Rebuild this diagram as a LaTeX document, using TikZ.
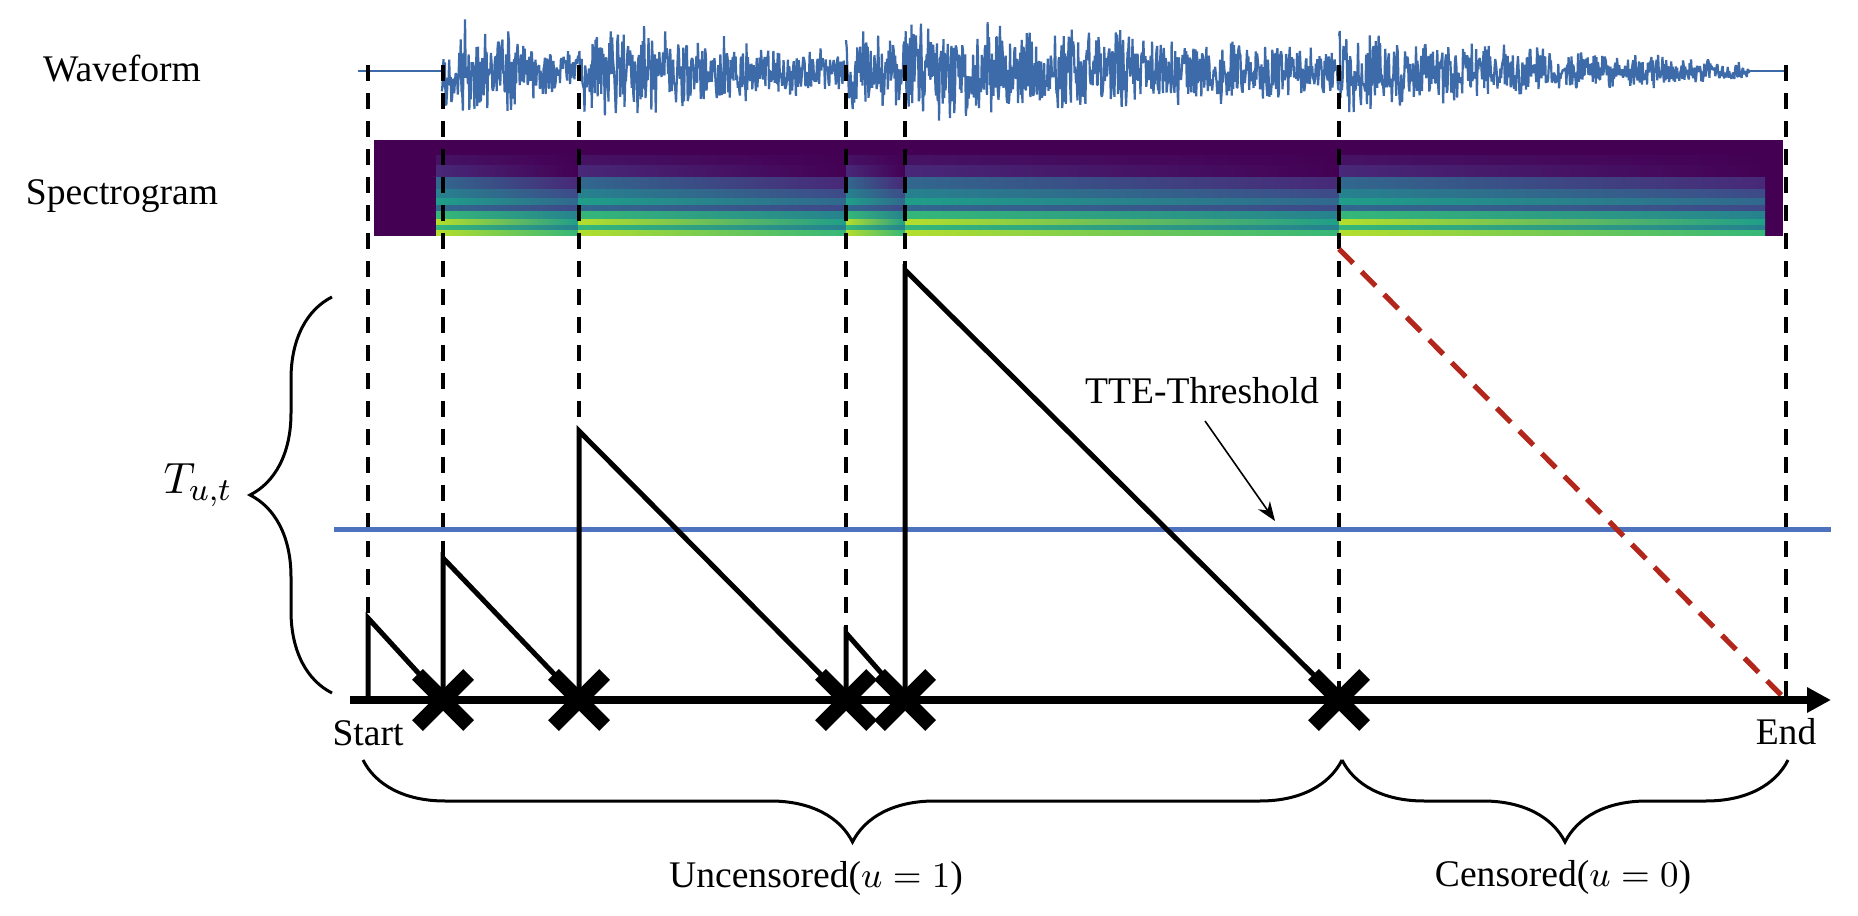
\documentclass[tikz,border=0pt]{standalone}
\usepackage{fontspec}
\setmainfont{Liberation Serif}
\usepackage{amsmath}
\usetikzlibrary{arrows.meta,positioning,decorations.pathreplacing,shapes.misc}
\definecolor{myWAVE}{HTML}{3D6AA8}
\definecolor{myBLUE}{HTML}{4F72BE}
\definecolor{myRED}{HTML}{B2261B}
\definecolor{vir0}{HTML}{440154}
\definecolor{vir1}{HTML}{482878}
\definecolor{vir2}{HTML}{3E4A89}
\definecolor{vir3}{HTML}{31688E}
\definecolor{vir4}{HTML}{26828E}
\definecolor{vir5}{HTML}{1F9E89}
\definecolor{vir6}{HTML}{35B779}
\definecolor{vir7}{HTML}{6DCD59}
\definecolor{vir8}{HTML}{B4DE2C}
\definecolor{vir9}{HTML}{FDE725}

\begin{document}
\begin{tikzpicture}[x=0.25pt, y=-0.25pt, >=Stealth, font=\fontsize{9.4}{11}\selectfont,
    wave/.style={myWAVE, line width=0.55pt, line join=bevel},
    guide/.style={black, line width=1pt, dash pattern=on 4pt off 3pt},
    saw/.style={black, line width=1.25pt},
    event/.style={cross out, draw=black, line width=3.8pt, minimum size=9pt, inner sep=0pt},
    curly/.style={decorate, decoration={brace, amplitude=20.5pt}, line width=0.75pt}]
    \useasboundingbox (0,0) rectangle (1858,916);

    % Coordinates
    \coordinate (wavetop) at (0,65);
    \coordinate (s0) at (368,700);
    \coordinate (ev1) at (443,700);
    \coordinate (ev2) at (579,700);
    \coordinate (ev3) at (846,700);
    \coordinate (ev4) at (905,700);
    \coordinate (ev5) at (1339,700);
    \coordinate (endpt) at (1786,700);
    \coordinate (t0) at (368,618);
    \coordinate (t1) at (443,558);
    \coordinate (t2) at (579,431);
    \coordinate (t3) at (846,633);
    \coordinate (t4) at (905,270);
    \coordinate (t5) at (1339,249);

    % Waveform
    \pgfmathsetseed{11}
    \draw[wave] (358,71) -- (442,71);
    \draw[wave] (1749,71) -- (1787,71);
    \foreach \a/\b/\ha/\hb/\n in {442/578/60/22/190, 578/846/56/20/370, 846/905/50/42/80, 905/1339/60/26/600, 1339/1749/46/9/560}
        \draw[wave] plot[domain=\a:\b, samples=\n] (\x, {71+rand*(0.45+0.55*rnd)*(\ha+(\hb-\ha)*(\x-\a)/(\b-\a))});

    % Spectrogram
    \fill[vir0] (374,140) rectangle (1783,236);
    \foreach \sa/\sb in {436/578, 578/846, 846/905, 905/1339, 1339/1765}
        \foreach \ya/\yb/\ca/\cb in {156/166/vir0!55!vir1/vir0, 166/178/vir1/vir0, 178/190/vir3/vir1, 190/199/vir4/vir2, 199/206/vir5/vir3, 206/212/vir3/vir2, 212/220/vir6/vir4, 220/226/vir8/vir5, 226/231/vir6/vir4, 231/236/vir8/vir6}
            \shade[left color=\ca, right color=\cb] (\sa,\ya) rectangle (\sb,\yb);

    % Guides
    \foreach \p in {t0, t1, t2, t3, t4, ev5, endpt}
        \draw[guide] (\p |- wavetop) -- (\p);

    % Threshold and curves
    \draw[myBLUE, line width=1.25pt] (334,530) -- (1831,530);
    \draw[saw] (s0) -- (t0) -- (ev1) -- (t1) -- (ev2) -- (t2) -- (ev3) -- (t3) -- (ev4) -- (t4) -- (ev5);
    \draw[myRED, line width=1.3pt, dash pattern=on 5pt off 3pt] (t5) -- (endpt);
    \draw[-{Triangle[length=6pt, width=6pt]}, line width=1.75pt] (350,700) -- (1831,700);

    % Nodes
    \foreach \p in {ev1, ev2, ev3, ev4, ev5}
        \node[event] (x-\p) at (\p) {};
    \node (wavelbl) at (122,69) {Waveform};
    \node (speclbl) at (122,196) {Spectrogram};
    \node (startlbl) [below=1.5pt of s0] {Start};
    \node (endlbl) [below=1pt of endpt] {End};
    \node (ttelbl) at (1202,391) {TTE-Threshold};
    \node (tlbl) at (198,485) {\fontsize{11}{12}\selectfont$T_{u,t}$};
    \node (unclbl) at (816,878) {Uncensored($u=1$)};
    \node (cenlbl) at (1563,877) {Censored($u=0$)};

    % Arrows and braces
    \draw[->, line width=0.4pt] (1205,421) -- (1275,521);
    \draw[curly] (332,693) -- (332,297);
    \draw[curly] (1342,760) -- (363,760);
    \draw[curly] (1788,760) -- (1342,760);
\end{tikzpicture}
\end{document}
